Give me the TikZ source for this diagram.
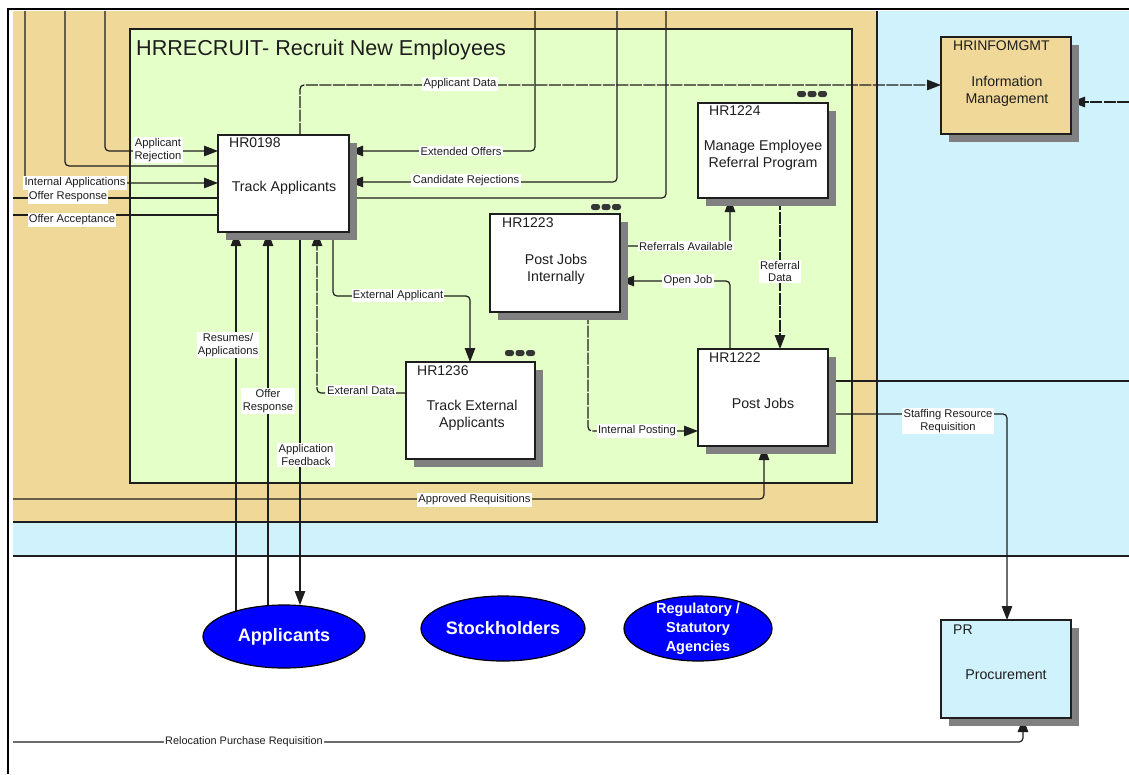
\documentclass[tikz,border=0pt]{standalone}
\usepackage{fontspec}
\setmainfont{Liberation Sans}
\usetikzlibrary{arrows.meta,shadows,calc,shapes.geometric}
\definecolor{bgblue}{RGB}{207,242,252}
\definecolor{bgtan}{RGB}{240,216,152}
\definecolor{bggreen}{RGB}{229,255,200}
\definecolor{shadowgray}{RGB}{128,128,128}
\definecolor{ink}{RGB}{30,30,30}
\definecolor{ellblue}{RGB}{0,0,255}
\pgfdeclarelayer{bg}
\pgfdeclarelayer{lines}
\pgfsetlayers{bg,lines,main}
\begin{document}
\begin{tikzpicture}[x=1pt,y=-1pt,
  pbox/.style={draw=ink, line width=1.2pt, fill=white, anchor=north west, inner sep=0pt, outer sep=0pt,
     drop shadow={shadow xshift=8pt, shadow yshift=-8pt, fill=shadowgray, opacity=1}},
  boxid/.style={anchor=west, inner sep=0pt, text=ink, font=\fontsize{14}{16}\selectfont},
  boxtext/.style={inner sep=0pt, text=ink, align=center, font=\fontsize{14.2}{17}\selectfont},
  conn/.style={draw=ink, line width=1.2pt, rounded corners=4pt},
  arrowend/.style={-{Triangle[length=14pt,width=10.5pt]}},
  dashedline/.style={dash pattern=on 12pt off 1.5pt},
  lab/.style={fill=white, inner sep=1.3pt, text=ink, align=center, font=\fontsize{11.2}{12.8}\selectfont},
  ell/.style={ellipse, draw=black, line width=1.2pt, fill=ellblue, inner sep=0pt, outer sep=0pt},
  elltext/.style={text=white, align=center, font=\bfseries\fontsize{18}{19}\selectfont},
  dots3/.pic={\fill[ink!90, rounded corners=2.5pt] (0,0) rectangle (9,6);
              \fill[ink!90, rounded corners=2.5pt] (10.5,0) rectangle (19.5,6);
              \fill[ink!90, rounded corners=2.5pt] (21,0) rectangle (30,6);}
]
\useasboundingbox (0,0) rectangle (1129,774);
\begin{pgfonlayer}{bg}
  \fill[white] (0,0) rectangle (1129,774);
  \fill[bgblue] (13,11) rectangle (1129,556);
  \fill[bgtan] (13,11) rectangle (877,522);
  \draw[ink,line width=1.2pt] (877,11) -- (877,522) -- (13,522);
  \draw[ink,line width=2pt] (13,556) -- (1129,556);
  \draw[ink,fill=bggreen,line width=1.2pt] (130,29) rectangle (852,483);
  \draw[black,line width=2.6pt] (8,774) -- (8,9) -- (1129,9);
\end{pgfonlayer}

\node[anchor=west, inner sep=0pt, text=ink, font=\fontsize{21.6}{24}\selectfont] (title) at (136,50) {HRRECRUIT- Recruit New Employees};

% process boxes
\node[pbox, minimum width=131pt, minimum height=97pt] (b0198) at (218,135) {};
\node[pbox, minimum width=130pt, minimum height=98pt] (b1223) at (490,214) {};
\node[pbox, minimum width=130pt, minimum height=95pt] (b1224) at (698,103) {};
\node[pbox, minimum width=129pt, minimum height=97pt] (b1236) at (406,362) {};
\node[pbox, minimum width=130pt, minimum height=97pt] (b1222) at (698,349) {};
\node[pbox, fill=bgtan, minimum width=130pt, minimum height=97pt] (binfo) at (941,37) {};
\node[pbox, fill=bgblue, minimum width=130pt, minimum height=98pt] (bPR) at (941,620) {};

\node[boxid] (i0198) at (229,143) {HR0198};
\node[boxtext] (t0198) at (284,188) {Track Applicants};
\node[boxid] (i1223) at (502,223) {HR1223};
\node[boxtext] (t1223) at (556,269) {Post Jobs\\Internally};
\node[boxid] (i1224) at (709,111) {HR1224};
\node[boxtext] (t1224) at (763,155.5) {Manage Employee\\Referral Program};
\node[boxid] (i1236) at (417,371) {HR1236};
\node[boxtext] (t1236) at (472,415) {Track External\\Applicants};
\node[boxid] (i1222) at (709,357.5) {HR1222};
\node[boxtext] (t1222) at (763,403) {Post Jobs};
\node[boxid] (iinfo) at (953,46) {HRINFOMGMT};
\node[boxtext] (tinfo) at (1007,91.5) {Information\\Management};
\node[boxid] (iPR) at (953,630) {PR};
\node[boxtext] (tPR) at (1006,675) {Procurement};

\pic at (591,204) {dots3};
\pic at (797,91) {dots3};
\pic at (505,350) {dots3};

% external entities
\node[ell, minimum width=162pt, minimum height=63pt] (eApp) at (284,636.5) {};
\node[elltext] (tApp) at (eApp) {Applicants};
\node[ell, minimum width=164pt, minimum height=65pt] (eStock) at (503,628.5) {};
\node[elltext] (tStock) at (eStock) {Stockholders};
\node[ell, minimum width=148pt, minimum height=65pt] (eReg) at (698,628.5) {};
\node[elltext, font=\bfseries\fontsize{14.5}{19}\selectfont] (tReg) at (eReg) {Regulatory /\\Statutory\\Agencies};

% free ends
\coordinate (cAR) at (105,11);
\coordinate (cL2) at (65,11);
\coordinate (cIA) at (25,11);
\coordinate (cOR) at (13,198);
\coordinate (cOA) at (13,215);
\coordinate (cEO) at (535,11);
\coordinate (cCR) at (617,11);
\coordinate (cL8) at (666,11);
\coordinate (cRight) at (1129,381);
\coordinate (cAppr) at (13,499);
\coordinate (cReloc) at (13,742);
\coordinate (cInfoR) at (1129,102);

\begin{pgfonlayer}{lines}
  \draw[conn,arrowend] (cAR) |- (b0198.west |- 0,151);
  \draw[conn] (cL2) |- (b0198.west |- 0,166);
  \draw[conn,arrowend] (cIA) |- (b0198.west |- 0,183);
  \draw[conn] (cOR) -- (b0198.west |- 0,198);
  \draw[conn] (cOA) -- (b0198.west |- 0,215);
  \draw[conn,arrowend] (cEO) |- (b0198.east |- 0,151);
  \draw[conn,arrowend] (cCR) |- (b0198.east |- 0,182);
  \draw[conn] (cL8) |- (b0198.east |- 0,198);
  \draw[conn,dashedline,arrowend] (b0198.north -| 300,0) |- (binfo.west |- 0,85);
  \draw[conn,dashedline,arrowend] (cInfoR) -- (binfo.east |- 0,102);
  \draw[conn,arrowend] (eApp.center -| 236,0) -- (b0198.south -| 236,0);
  \draw[conn,arrowend] (eApp.center -| 268,0) -- (b0198.south -| 268,0);
  \draw[conn,arrowend] (b0198.south -| 300,0) -- (eApp.north -| 300,0);
  \draw[conn,dashedline,arrowend] (b1236.west |- 0,393) -| (b0198.south -| 317,0);
  \draw[conn,arrowend] (b0198.south -| 333,0) -- ++(0,64) -| (b1236.north -| 470,0);
  \draw[conn,arrowend] (b1223.east |- 0,246) -| (b1224.south -| 730,0);
  \draw[conn,arrowend] (b1222.north -| 730,0) |- (b1223.east |- 0,281);
  \draw[conn,dashedline,arrowend] (b1223.south -| 588,0) |- (b1222.west |- 0,431);
  \draw[conn,dashedline,arrowend] (b1224.south -| 780,0) -- (b1222.north -| 780,0);
  \draw[conn,line width=1.6pt] (b1222.east |- 0,381) -- (cRight);
  \draw[conn,arrowend] (b1222.east |- 0,414) -| (bPR.north -| 1007,0);
  \draw[conn,arrowend] (cAppr) -| (b1222.south -| 764,0);
  \draw[conn,arrowend] (cReloc) -| (bPR.south -| 1023,0);
\end{pgfonlayer}

% connector labels
\node[lab] (lAR) at (158,150) {Applicant\\Rejection};
\node[lab] (lIA) at (75,183) {Internal Applications};
\node[lab] (lOR) at (68,197) {Offer Response};
\node[lab] (lOA) at (72,220) {Offer Acceptance};
\node[lab] (lEO) at (461,151) {Extended Offers};
\node[lab] (lCR) at (466,180.5) {Candidate Rejections};
\node[lab] (lAD) at (460,84) {Applicant Data};
\node[lab] (lRA) at (228,345) {Resumes/\\Applications};
\node[lab] (lOR2) at (268,401) {Offer\\Response};
\node[lab] (lAF) at (306,455) {Application\\Feedback};
\node[lab] (lED) at (361,390.5) {Exteranl Data};
\node[lab] (lEA) at (398,295.5) {External Applicant};
\node[lab] (lRef) at (686,246) {Referrals Available};
\node[lab] (lOJ) at (688,281) {Open Job};
\node[lab] (lIP) at (637,431) {Internal Posting};
\node[lab] (lRD) at (780,271.5) {Referral\\Data};
\node[lab] (lSR) at (948,421) {Staffing Resource\\Requisition};
\node[lab] (lApR) at (474.5,500) {Approved Requisitions};
\node[lab, font=\fontsize{10.9}{12}\selectfont] (lRel) at (244,742) {Relocation Purchase Requisition};
\end{tikzpicture}
\end{document}
